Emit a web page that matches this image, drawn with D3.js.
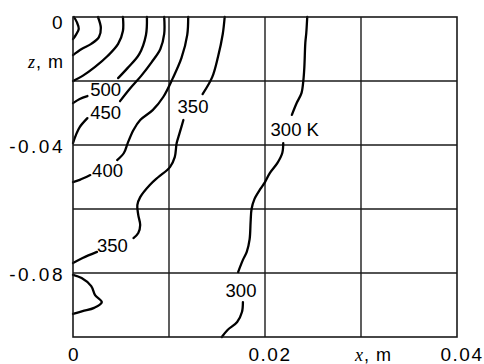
<!DOCTYPE html>
<html>
<head>
<meta charset="utf-8">
<script src="https://cdn.jsdelivr.net/npm/d3@7"></script>
<style>
  body { margin: 0; background: #fff; }
  svg { display: block; font-family: "Liberation Sans", Arial, sans-serif; }
</style>
</head>
<body>
<svg width="484" height="364"></svg>
<script>
// axis ticks (x and z in metres)
const xTicks = [0, 0.02, 0.04];
const xTickLabels = ["0", "0.02", "0.04"];
const zTicks = [0, -0.04, -0.08];
const zTickLabels = ["0", "-0.04", "-0.08"];
const xGrid = [0.01, 0.02, 0.03];
const zGrid = [-0.02, -0.04, -0.06, -0.08];

// isotherms, [x, z]; null = gap where the label sits
const c650 = [[0.0001, 0], [0.0004, -0.0016], [0.0006, -0.0037], [0.0003, -0.0056], [0, -0.0069]];
const c600 = [[0.0026, 0], [0.0029, -0.0034], [0.0027, -0.0063], [0.0019, -0.0084], [0.0009, -0.01], [0, -0.0119]];
const c550 = [[0.0052, 0], [0.0052, -0.0044], [0.0047, -0.0084], [0.0036, -0.0122], [0.0023, -0.0156], [0.001, -0.0184], [0, -0.02]];
const c500 = [[0.0077, 0], [0.0076, -0.0056], [0.0069, -0.0116], [0.0057, -0.0159], [0.0047, -0.0191], null,
  [0.0015, -0.0247], [0.0007, -0.0256], [0, -0.0269]];
const c450 = [[0.0095, 0], [0.0095, -0.0053], [0.0091, -0.01], [0.0082, -0.0141], [0.0071, -0.0184], [0.0059, -0.0225],
  [0.0049, -0.0263], null, [0.0015, -0.0316], [0.0007, -0.0344], [0.0003, -0.0369], [0, -0.0394]];
const c400 = [[0.012, 0], [0.0119, -0.0056], [0.0113, -0.0128], [0.0104, -0.0191], [0.0094, -0.025], [0.0083, -0.0291],
  [0.007, -0.0322], [0.0063, -0.0353], [0.0057, -0.0394], [0.0053, -0.0425], [0.0046, -0.0447], null,
  [0.0018, -0.0494], [0.0007, -0.0509], [0, -0.0516]];
const c400b = [[0, -0.0806], [0.0009, -0.0816], [0.0019, -0.0841], [0.0023, -0.0869], [0.003, -0.0891],
  [0.0022, -0.0909], [0.001, -0.0919], [0, -0.0928]];
const c350 = [[0.0158, 0], [0.0156, -0.0053], [0.0151, -0.0125], [0.0145, -0.0188], [0.0135, -0.0241], null,
  [0.0115, -0.0322], [0.0111, -0.0363], [0.0108, -0.0394], [0.0106, -0.0438], [0.0101, -0.0469], [0.0089, -0.05],
  [0.008, -0.0525], [0.007, -0.0563], [0.0067, -0.0588], [0.0068, -0.0619], [0.007, -0.065], [0.0068, -0.0675],
  [0.0063, -0.0691], null, [0.0025, -0.0734], [0.001, -0.0753], [0, -0.0769]];
const c300 = [[0.0244, 0], [0.0243, -0.005], [0.0242, -0.0081], [0.0241, -0.0156], [0.024, -0.0197], [0.0238, -0.0238],
  [0.0233, -0.0269], [0.0228, -0.0306], null, [0.0219, -0.0394], [0.0218, -0.0425], [0.0213, -0.0456],
  [0.0205, -0.0488], [0.02, -0.0516], [0.0195, -0.0538], [0.0189, -0.0569], [0.0186, -0.06], [0.0185, -0.0641],
  [0.0184, -0.0694], [0.0181, -0.0734], [0.0177, -0.0759], [0.0172, -0.0797], null, [0.0177, -0.0891],
  [0.0176, -0.0922], [0.0171, -0.0953], [0.0161, -0.0978], [0.0155, -0.1]];

const contours = [c650, c600, c550, c500, c450, c400, c400b, c350, c300];

const labelText = ["500", "450", "400", "350", "350", "300 K", "300"];
const labelX = [0.0034, 0.0034, 0.0036, 0.0125, 0.0041, 0.0231, 0.0175];
const labelZ = [-0.0225, -0.0297, -0.0478, -0.0278, -0.0713, -0.035, -0.0853];

const margin = {top: 17, left: 73};
const width = 384, height = 320;

const svg = d3.select("svg");
const g = svg.append("g").attr("transform", `translate(${margin.left},${margin.top})`);

const x = d3.scaleLinear().domain([0, 0.04]).range([0, width]);
const y = d3.scaleLinear().domain([0, -0.1]).range([0, height]);

// grid
g.append("g").selectAll("line")
  .data(xGrid)
  .join("line")
  .attr("x1", d => x(d)).attr("x2", d => x(d))
  .attr("y1", 0).attr("y2", height)
  .attr("stroke", "#1a1a1a").attr("stroke-width", 1.4);

g.append("g").selectAll("line")
  .data(zGrid)
  .join("line")
  .attr("x1", 0).attr("x2", width)
  .attr("y1", d => y(d)).attr("y2", d => y(d))
  .attr("stroke", "#1a1a1a").attr("stroke-width", 1.6);

// isotherms
const line = d3.line()
  .defined(d => d)
  .x(d => x(d[0]))
  .y(d => y(d[1]))
  .curve(d3.curveCatmullRom);

g.append("g").selectAll("path")
  .data(contours)
  .join("path")
  .attr("d", line)
  .attr("fill", "none")
  .attr("stroke", "#000")
  .attr("stroke-width", 2.3)
  .attr("stroke-linejoin", "round")
  .attr("stroke-linecap", "round");

// frame
g.append("rect")
  .attr("width", width).attr("height", height)
  .attr("fill", "none")
  .attr("stroke", "#1a1a1a").attr("stroke-width", 1.6);

// contour labels
g.append("g").selectAll("text")
  .data(labelText)
  .join("text")
  .attr("x", (d, i) => x(labelX[i]))
  .attr("y", (d, i) => y(labelZ[i]))
  .attr("dy", "0.36em")
  .attr("text-anchor", "middle")
  .attr("font-size", 18.5)
  .attr("fill", "#000")
  .text(d => d);

// tick labels
g.append("g").selectAll("text")
  .data(xTicks)
  .join("text")
  .attr("x", d => x(d))
  .attr("dx", d => d === 0 ? 1 : 5)
  .attr("y", height + 24)
  .attr("text-anchor", "middle")
  .attr("font-size", 19)
  .attr("letter-spacing", 1.5)
  .text((d, i) => xTickLabels[i]);

g.append("g").selectAll("text")
  .data(zTicks)
  .join("text")
  .attr("x", -8)
  .attr("y", d => y(d) + (d === 0 ? 5 : 1))
  .attr("dy", "0.36em")
  .attr("text-anchor", "end")
  .attr("font-size", 19)
  .attr("letter-spacing", 2.5)
  .text((d, i) => zTickLabels[i]);

// axis titles
const zTitle = g.append("text")
  .attr("x", -9).attr("y", y(-0.0159))
  .attr("text-anchor", "end")
  .attr("font-size", 18)
  .attr("letter-spacing", 1);
zTitle.append("tspan").attr("font-style", "italic").attr("font-family", "Liberation Serif, serif").text("z");
zTitle.append("tspan").text(", m");

const xTitle = g.append("text")
  .attr("x", x(0.0313)).attr("y", height + 24)
  .attr("text-anchor", "middle")
  .attr("font-size", 18)
  .attr("letter-spacing", 1);
xTitle.append("tspan").attr("font-style", "italic").attr("font-family", "Liberation Serif, serif").text("x");
xTitle.append("tspan").text(", m");
</script>
</body>
</html>
